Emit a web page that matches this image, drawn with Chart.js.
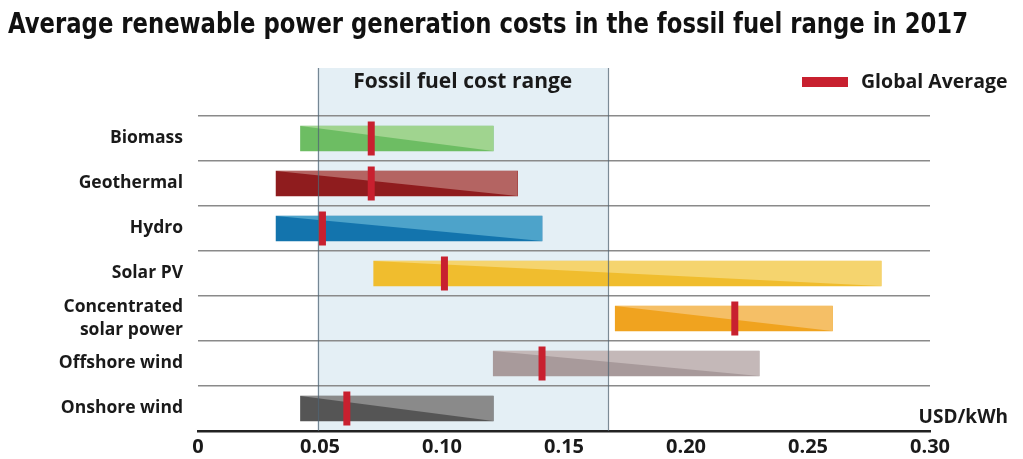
<!DOCTYPE html>
<html lang="en">
<head>
  <meta charset="UTF-8">
  <title>Renewable power generation costs 2017</title>
  <script src="https://cdn.jsdelivr.net/npm/chart.js"></script>
  <style>
    html, body { margin: 0; padding: 0; background: #fff; }
    #wrap { width: 1023px; height: 459px; }
  </style>
</head>
<body>
  <div id="wrap"><canvas id="costChart" width="1023" height="459"></canvas></div>

  <script>
    // values (USD/kWh)
    const technologies = ['Biomass', 'Geothermal', 'Hydro', 'Solar PV', ['Concentrated', 'solar power'], 'Offshore wind', 'Onshore wind'];
    const rangeLow  = [0.042, 0.032, 0.032, 0.072, 0.171, 0.121, 0.042];
    const rangeHigh = [0.121, 0.131, 0.141, 0.280, 0.260, 0.230, 0.121];
    const globalAvg = [0.071, 0.071, 0.051, 0.101, 0.220, 0.141, 0.061];
    const darkColors  = ['#6dbd63', '#8f1c1e', '#1374ad', '#f0bd2e', '#f0a31f', '#a89a9b', '#555555'];
    const lightColors = ['#a0d48f', '#b46462', '#4da3ca', '#f5d46e', '#f5bf66', '#c4b8b8', '#8a8a8a'];
    const fossilRange = [0.049, 0.168];
    const xTicks = [0, 0.05, 0.10, 0.15, 0.20, 0.25, 0.30];
    const chartTitle = 'Average renewable power generation costs in the fossil fuel range in 2017';

    const labelFont = "'Open Sans', 'DejaVu Sans', sans-serif";
    const titleFont = "'Liberation Sans Narrow', 'DejaVu Sans Condensed', sans-serif";
    const ink = '#1a1a1a';

    const categories = technologies.map(t => Array.isArray(t) ? t.join(' ') : t);

    // light blue band for fossil fuel range, behind grid and bars
    const bandPlugin = {
      id: 'band',
      beforeDraw(chart) {
        const { ctx, chartArea, scales } = chart;
        const x0 = scales.x.getPixelForValue(fossilRange[0]);
        const x1 = scales.x.getPixelForValue(fossilRange[1]);
        ctx.save();
        ctx.fillStyle = '#e4eff5';
        ctx.fillRect(x0, 68, x1 - x0, chartArea.bottom - 68);
        ctx.restore();
      },
      afterDatasetsDraw(chart) {
        const { ctx, chartArea, scales } = chart;
        ctx.save();
        ctx.strokeStyle = 'rgba(80,100,115,0.75)';
        ctx.lineWidth = 1.2;
        fossilRange.forEach(v => {
          const x = Math.round(scales.x.getPixelForValue(v)) + 0.5;
          ctx.beginPath();
          ctx.moveTo(x, 68);
          ctx.lineTo(x, chartArea.bottom);
          ctx.stroke();
        });
        ctx.restore();
      },
      afterDraw(chart) {
        const { ctx, scales } = chart;
        const x0 = scales.x.getPixelForValue(fossilRange[0]);
        const x1 = scales.x.getPixelForValue(fossilRange[1]);
        ctx.save();
        // title, drawn here so it can run past the plot's right edge
        ctx.fillStyle = '#111';
        ctx.textAlign = 'left';
        ctx.textBaseline = 'alphabetic';
        ctx.font = `bold 27.5px ${titleFont}`;
        ctx.fillText(chartTitle, 8, 33, 960);

        ctx.fillStyle = ink;
        ctx.textBaseline = 'middle';
        ctx.font = `bold 21px ${labelFont}`;
        ctx.textAlign = 'center';
        ctx.fillText('Fossil fuel cost range', (x0 + x1) / 2, 82);

        // legend
        ctx.fillStyle = '#c8202f';
        ctx.fillRect(802, 77, 46, 10);
        ctx.fillStyle = ink;
        ctx.textAlign = 'left';
        ctx.font = `bold 19.5px ${labelFont}`;
        ctx.fillText('Global Average', 861, 82);

        // unit
        ctx.textAlign = 'right';
        ctx.font = `bold 19px ${labelFont}`;
        ctx.fillText('USD/kWh', 1008, 418);
        ctx.restore();
      }
    };

    // two tone bars: light triangle over the upper right half
    const splitPlugin = {
      id: 'split',
      afterDatasetDraw(chart, args) {
        if (args.index !== 0) return;
        const { ctx } = chart;
        args.meta.data.forEach((bar, i) => {
          const p = bar.getProps(['x', 'y', 'base', 'height'], true);
          const left = Math.min(p.x, p.base), right = Math.max(p.x, p.base);
          const top = p.y - p.height / 2, bottom = p.y + p.height / 2;
          ctx.save();
          ctx.fillStyle = lightColors[i];
          ctx.beginPath();
          ctx.moveTo(left, top);
          ctx.lineTo(right, top);
          ctx.lineTo(right, bottom);
          ctx.closePath();
          ctx.fill();
          ctx.restore();
        });
      }
    };

    new Chart(document.getElementById('costChart'), {
      type: 'bar',
      data: {
        labels: technologies,
        datasets: [
          {
            label: 'Cost range',
            data: rangeLow.map((lo, i) => [lo, rangeHigh[i]]),
            backgroundColor: darkColors,
            borderWidth: 0,
            barThickness: 25,
            order: 1
          },
          {
            type: 'scatter',
            label: 'Global Average',
            data: globalAvg.map((v, i) => ({ x: v, y: categories[i] })),
            pointStyle: 'line',
            rotation: 90,
            radius: 17,
            hoverRadius: 17,
            borderWidth: 7,
            borderColor: '#c8202f',
            backgroundColor: '#c8202f',
            order: 0
          }
        ]
      },
      options: {
        indexAxis: 'y',
        responsive: false,
        animation: false,
        events: [],
        layout: { padding: { left: 0, right: 93, top: 116, bottom: 0 } },
        plugins: {
          legend: { display: false },
          tooltip: { enabled: false },
          title: { display: false }
        },
        scales: {
          x: {
            type: 'linear',
            min: 0,
            max: 0.30,
            afterBuildTicks: scale => { scale.ticks = xTicks.map(v => ({ value: v })); },
            afterFit: scale => { scale.height = 28; },
            grid: { display: false, drawTicks: false },
            border: { display: true, color: '#222', width: 2.5 },
            ticks: {
              padding: 4,
              color: ink,
              autoSkip: false,
              maxRotation: 0,
              font: { family: labelFont, size: 20, weight: 'bold' },
              callback: v => v === 0 ? '0' : v.toFixed(2)
            }
          },
          y: {
            type: 'category',
            labels: categories,
            offset: true,
            afterFit: scale => { scale.width = 198; },
            grid: { display: true, offset: true, drawTicks: false, color: '#8a8a8a', lineWidth: 1.5 },
            border: { display: false },
            ticks: {
              padding: 15,
              color: ink,
              autoSkip: false,
              font: { family: labelFont, size: 17.5, weight: 'bold', lineHeight: 1.35 },
              callback: (v, i) => technologies[i]
            }
          }
        }
      },
      plugins: [bandPlugin, splitPlugin]
    });
  </script>
</body>
</html>
